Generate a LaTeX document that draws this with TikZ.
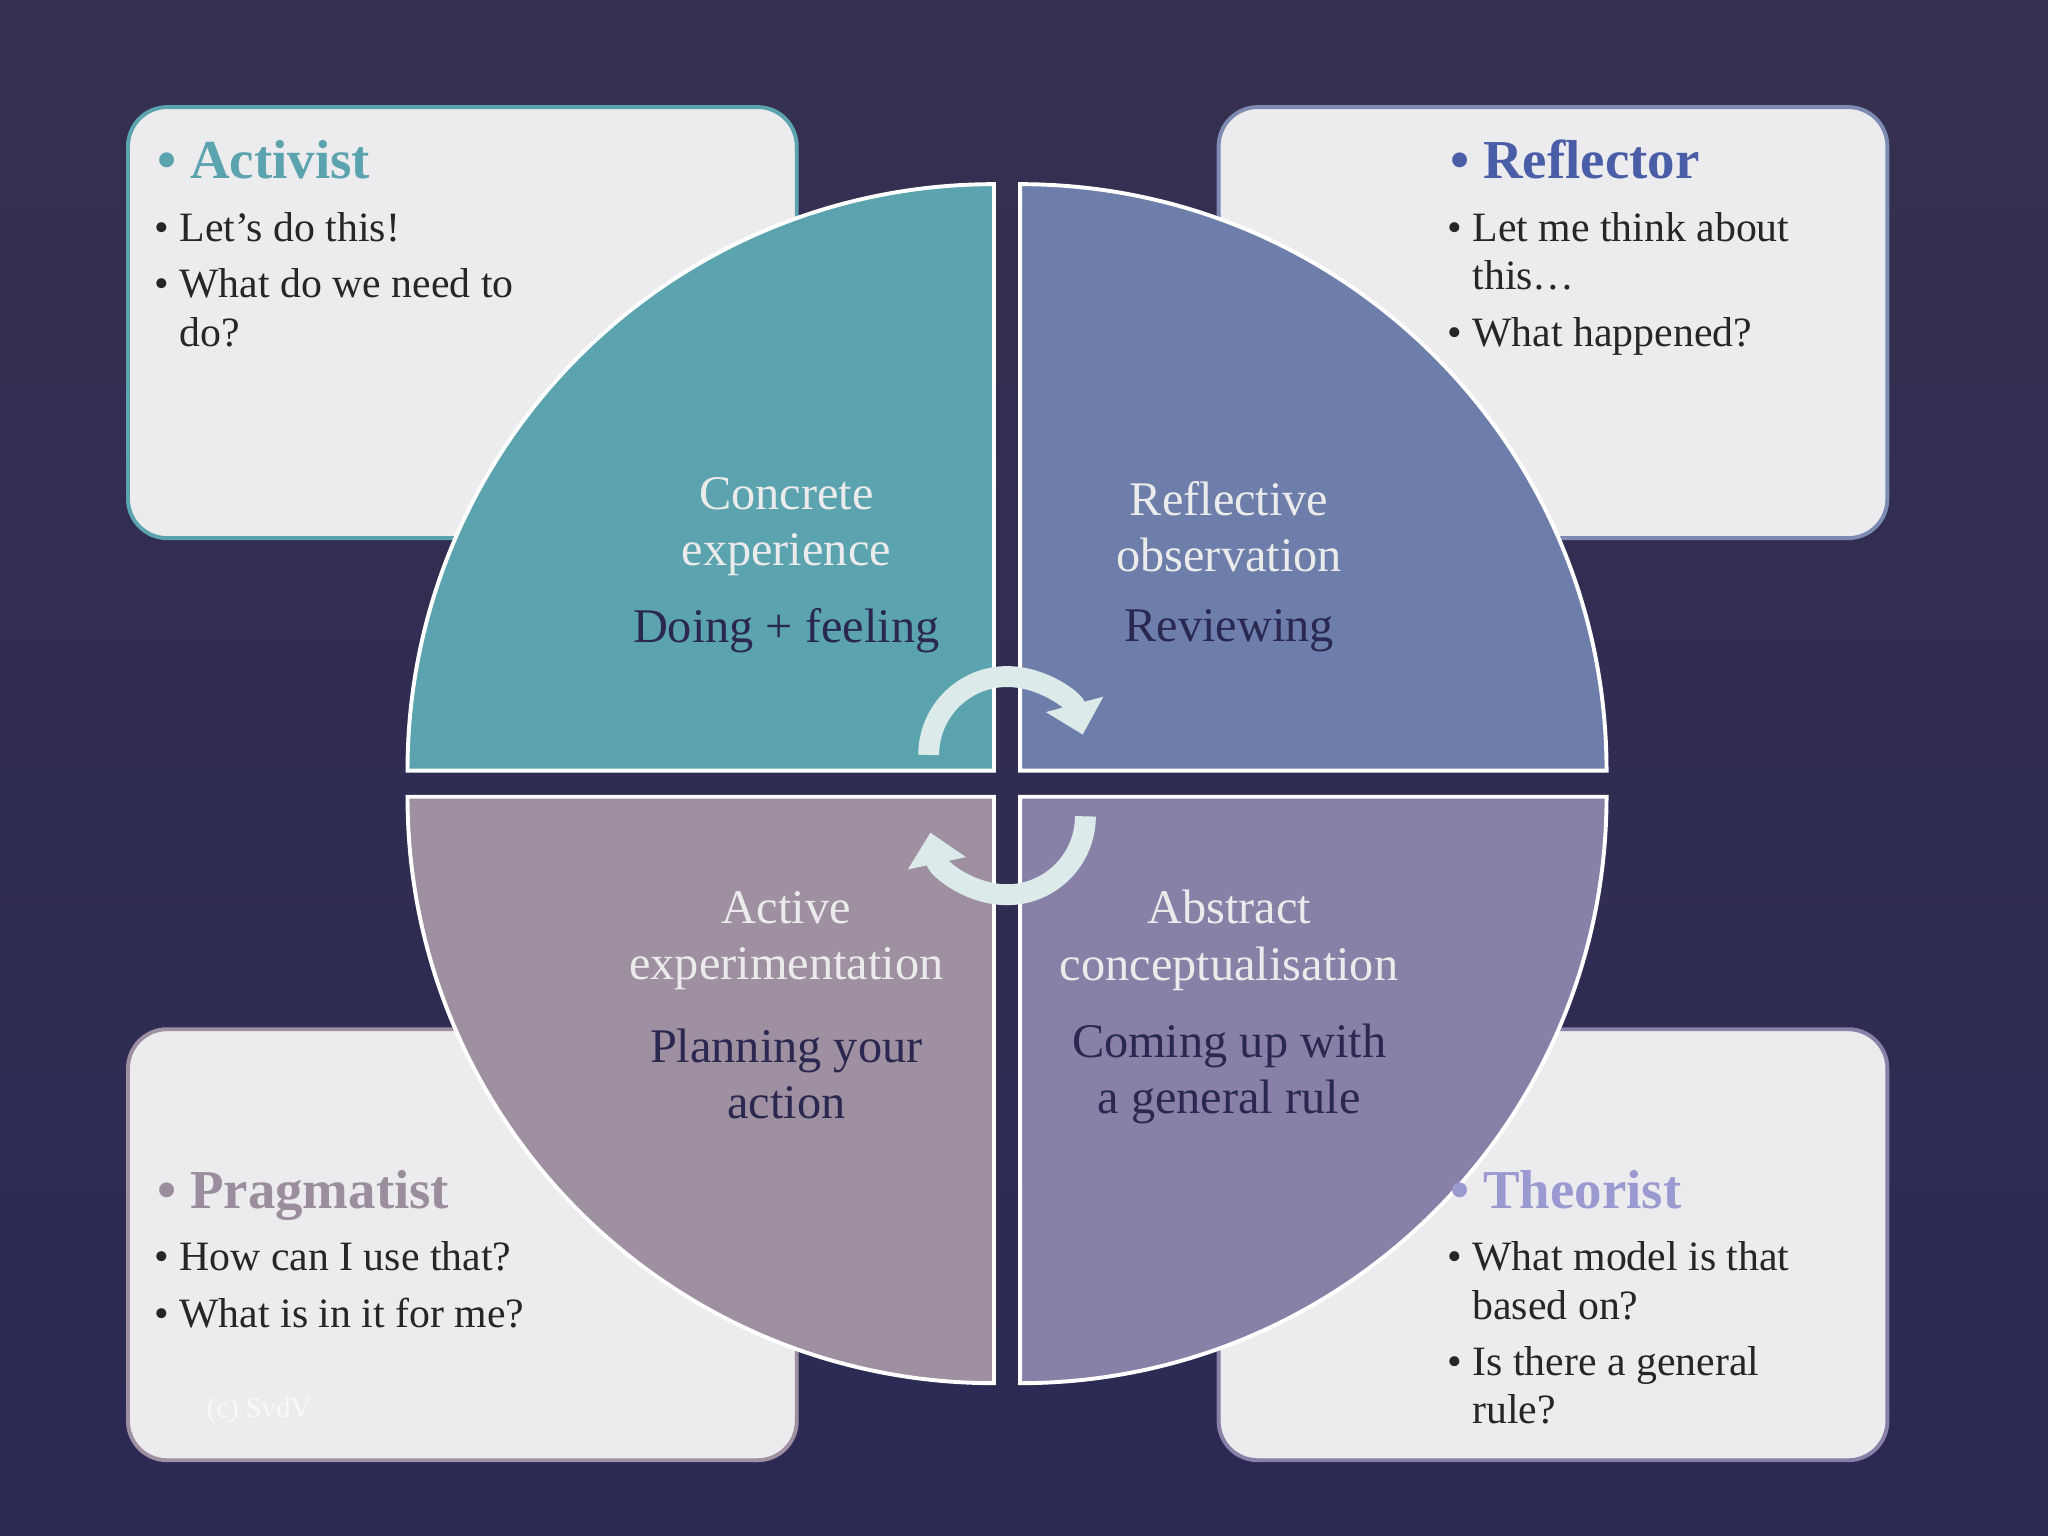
\documentclass[tikz,border=0pt]{standalone}
\usepackage{fontspec}
\setmainfont{Liberation Serif}
\usetikzlibrary{arrows.meta}
\definecolor{bgtop}{HTML}{363050}
\definecolor{bgbot}{HTML}{2B2A55}
\definecolor{boxfill}{HTML}{ECEBEE}
\definecolor{cteal}{HTML}{5BA3AE}
\definecolor{cblue}{HTML}{6E7EAA}
\definecolor{cmauve}{HTML}{9E90A0}
\definecolor{cpurp}{HTML}{8880A6}
\definecolor{hteal}{HTML}{5BA3AE}
\definecolor{hblue}{HTML}{4A5EA8}
\definecolor{hgrey}{HTML}{9A8E9C}
\definecolor{hlil}{HTML}{9A9AD0}
\definecolor{navy}{HTML}{2A2850}
\definecolor{cyc}{HTML}{DCEAEA}
\begin{document}
\begin{tikzpicture}[x=0.5pt,y=-0.5pt,
  card/.style={fill=boxfill,line width=1.5pt,rounded corners=15pt},
  quad/.style={draw=white,line width=1.5pt},
  bodytxt/.style={anchor=base west,inner sep=0pt,font=\fontsize{16}{19}\selectfont,text=black!85},
  headtxt/.style={anchor=base west,inner sep=0pt,font=\fontsize{21}{25}\selectfont\bfseries},
  qtitle/.style={align=center,inner sep=0pt,font=\fontsize{18.5}{21.5}\selectfont,text=white!92!black},
  qsub/.style={align=center,inner sep=0pt,font=\fontsize{18.5}{21.5}\selectfont,text=navy},
  cycarrow/.style={draw=cyc,line width=8pt,-{Triangle[length=12pt,width=22pt]}}]
\shade[top color=bgtop,bottom color=bgbot] (0,0) rectangle (1568,1176);
\useasboundingbox (0,0) rectangle (1568,1176);
% cards
\draw[card,draw=cteal] (98,82) rectangle (610,412);
\draw[card,draw=cblue!90!white] (933,82) rectangle (1445,412);
\draw[card,draw=cmauve] (98,788) rectangle (610,1118);
\draw[card,draw=cpurp] (933,788) rectangle (1445,1118);
% quadrants
\filldraw[quad,fill=cteal] (761,590) -- ++(-449,0) arc (180:270:449) -- cycle;
\filldraw[quad,fill=cblue] (781,590) -- ++(449,0) arc (0:-90:449) -- cycle;
\filldraw[quad,fill=cmauve] (761,610) -- ++(-449,0) arc (180:90:449) -- cycle;
\filldraw[quad,fill=cpurp] (781,610) -- ++(449,0) arc (0:90:449) -- cycle;
% quadrant texts
\node[qtitle] (q1) at (602,403) {Concrete\\experience};
\node[qsub] (q1s) at (602,483) {Doing + feeling};
\node[qtitle] (q2) at (941,403) {Reflective\\observation};
\node[qsub] (q2s) at (941,483) {Reviewing};
\node[qtitle] (q3) at (602,720) {Active\\experimentation};
\node[qsub] (q3s) at (602,822) {Planning your\\action};
\node[qtitle] (q4) at (941,720) {Abstract\\conceptualisation};
\node[qsub] (q4s) at (941,822) {Coming up with\\a general rule};
% cycle arrows
\draw[cycarrow] (711,578) arc (180:345:60);
\draw[cycarrow] (831,625) arc (0:168:60);
% Activist
\node[headtxt,text=hteal] (a0) at (120,137) {• Activist};
\node[bodytxt] (a1) at (118,185) {•};\node[bodytxt] (a1t) at (137,185) {Let’s do this!};
\node[bodytxt] (a2) at (118,228) {•};\node[bodytxt] (a2t) at (137,228) {What do we need to};
\node[bodytxt] (a3t) at (137,265) {do?};
% Reflector
\node[headtxt,text=hblue] (r0) at (1110,137) {• Reflector};
\node[bodytxt] (r1) at (1108,185) {•};\node[bodytxt] (r1t) at (1127,185) {Let me think about};
\node[bodytxt] (r2t) at (1127,222) {this…};
\node[bodytxt] (r3) at (1108,265) {•};\node[bodytxt] (r3t) at (1127,265) {What happened?};
% Pragmatist
\node[headtxt,text=hgrey] (p0) at (120,925) {• Pragmatist};
\node[bodytxt] (p1) at (118,973) {•};\node[bodytxt] (p1t) at (137,973) {How can I use that?};
\node[bodytxt] (p2) at (118,1016) {•};\node[bodytxt] (p2t) at (137,1016) {What is in it for me?};
\node[anchor=base west,inner sep=0pt,font=\fontsize{11}{13}\selectfont,text=white!70!boxfill] (wm) at (158,1085) {(c) SvdV};
% Theorist
\node[headtxt,text=hlil] (t0) at (1110,925) {• Theorist};
\node[bodytxt] (t1) at (1108,973) {•};\node[bodytxt] (t1t) at (1127,973) {What model is that};
\node[bodytxt] (t2t) at (1127,1010) {based on?};
\node[bodytxt] (t3) at (1108,1053) {•};\node[bodytxt] (t3t) at (1127,1053) {Is there a general};
\node[bodytxt] (t4t) at (1127,1090) {rule?};
\end{tikzpicture}
\end{document}
